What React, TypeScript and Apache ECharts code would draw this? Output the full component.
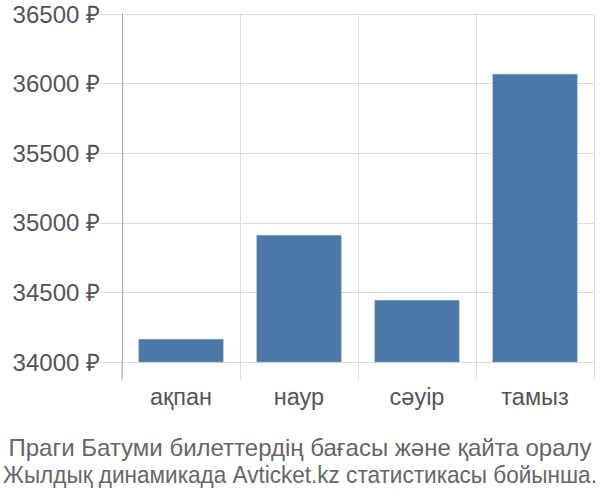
import React, { useEffect, useRef } from "react";
import * as echarts from "echarts";

const categories = ["ақпан", "наур", "сәуір", "тамыз"];
const prices = [34165, 34912, 34445, 36069];
const yMin = 34000;
const yMax = 36500;
const yStep = 500;
const titleLines = [
  "Праги Батуми билеттердің бағасы және қайта оралу",
  "Жылдық динамикада Avticket.kz статистикасы бойынша.",
];

export default function App() {
  const ref = useRef<HTMLDivElement>(null);
  useEffect(() => {
    document.body.style.margin = "0";
    const chart = echarts.init(ref.current!, null, { renderer: "svg" });
    const font = "Liberation Sans, Arial, sans-serif";
    chart.setOption({
      animation: false,
      textStyle: { fontFamily: font },
      grid: { left: 122, right: 6, top: 14, bottom: 138, containLabel: false },
      xAxis: {
        type: "category",
        data: categories,
        axisLine: { show: true, lineStyle: { color: "#ddd" } },
        axisTick: { show: true, length: 18, lineStyle: { color: "#ddd" } },
        splitLine: { show: true, lineStyle: { color: "#ddd" } },
        axisLabel: { fontSize: 23.5, color: "#555", margin: 23, fontFamily: font },
      },
      yAxis: {
        type: "value",
        min: yMin,
        max: yMax,
        interval: yStep,
        axisLine: { show: true, lineStyle: { color: "#aaa" } },
        axisTick: { show: true, length: 22, lineStyle: { color: "#ddd" } },
        splitLine: { show: true, lineStyle: { color: "#ddd" } },
        axisLabel: {
          fontSize: 24,
          color: "#555",
          margin: 22,
          fontFamily: font,
          formatter: (v: number) => v + " ₽",
        },
      },
      graphic: [
        {
          type: "line",
          shape: { x1: 122, y1: 362, x2: 122, y2: 380 },
          style: { stroke: "#aaa", lineWidth: 1 },
          z: 10,
        },
        {
          type: "text",
          x: 300,
          y: 447,
          style: {
            text: titleLines[0],
            fontSize: 24,
            fontFamily: font,
            fill: "#666",
            textAlign: "center",
            textVerticalAlign: "middle",
          },
        },
        {
          type: "text",
          x: 300,
          y: 475,
          scaleX: 0.94,
          style: {
            text: titleLines[1],
            fontSize: 24,
            fontFamily: font,
            fill: "#666",
            textAlign: "center",
            textVerticalAlign: "middle",
          },
        },
      ],
      series: [
        {
          type: "bar",
          data: prices,
          barWidth: "72%",
          itemStyle: { color: "#4c78a8", borderColor: "#7fa0c4", borderWidth: 0.5 },
        },
      ],
    });
    return () => chart.dispose();
  }, []);
  return <div ref={ref} style={{ width: 600, height: 500 }} />;
}
